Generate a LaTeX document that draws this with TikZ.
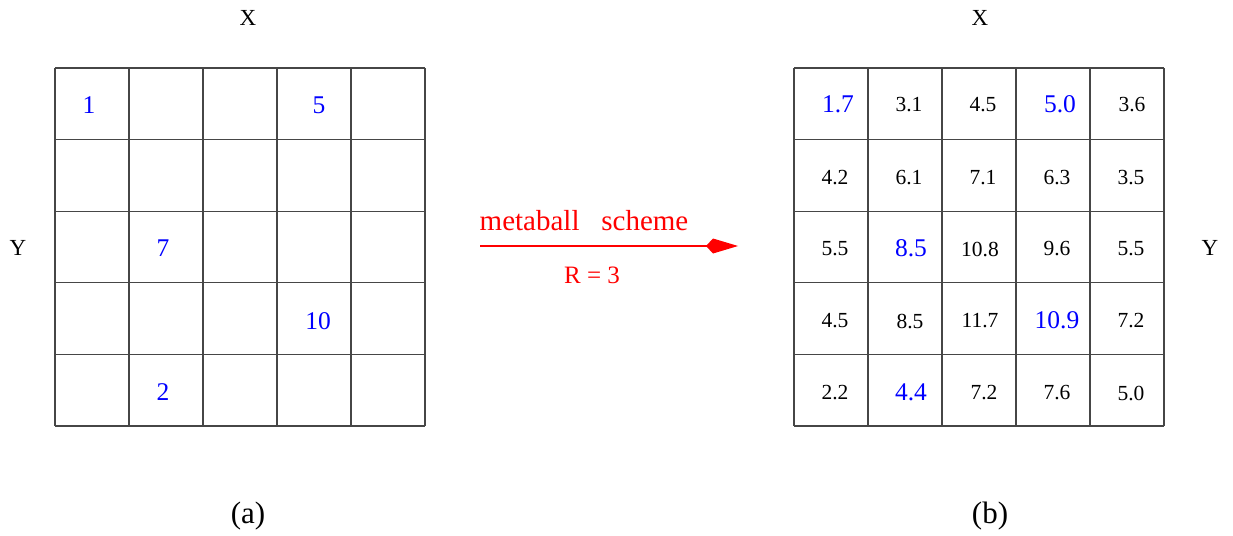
\documentclass[tikz,border=0pt]{standalone}
\usepackage{fontspec}
\setmainfont{Liberation Serif}
\usetikzlibrary{arrows.meta}

\begin{document}
\begin{tikzpicture}[x=1pt,y=-1pt]
  \definecolor{mblue}{RGB}{0,0,255}
  \definecolor{mred}{RGB}{255,0,0}
  \definecolor{mline}{RGB}{70,70,70}
  \tikzset{
    gridline/.style={mline,line width=1.1pt},
    seed/.style={font=\fontsize{25.5}{25.5}\selectfont,text=mblue,inner sep=0pt},
    val/.style={font=\fontsize{21.5}{21.5}\selectfont,inner sep=0pt},
    axis/.style={font=\fontsize{23}{23}\selectfont,inner sep=0pt},
    caption/.style={font=\fontsize{31}{31}\selectfont,inner sep=0pt}
  }
  \useasboundingbox (0,0) rectangle (1233,535);
  % left grid
  \foreach \i in {0,...,5} {
    \draw[gridline] (55+74*\i,68) -- (55+74*\i,426);
    \draw[gridline] (55,68+71.6*\i) -- (425,68+71.6*\i);
  }
  % right grid
  \foreach \i in {0,...,5} {
    \draw[gridline] (794+74*\i,68) -- (794+74*\i,426);
    \draw[gridline] (794,68+71.6*\i) -- (1164,68+71.6*\i);
  }
  \node[axis] (xa) at (248,18) {X};
  \node[axis] (ya) at (18,248) {Y};
  \node[axis] (xb) at (980,18) {X};
  \node[axis] (yb) at (1210,248) {Y};
  \node[caption] (capa) at (248,516) {(a)};
  \node[caption] (capb) at (990,516) {(b)};
  % seeds
  \node[seed] (s1) at (89,105) {1};
  \node[seed] (s5) at (319,105) {5};
  \node[seed] (s7) at (163,248) {7};
  \node[seed] (s10) at (318,321) {10};
  \node[seed] (s2) at (163,392) {2};
  % field values
  \node[seed] (v11) at (838,104) {1.7};
  \node[val] (v12) at (909,105) {3.1};
  \node[val] (v13) at (983,105) {4.5};
  \node[seed] (v14) at (1060,104) {5.0};
  \node[val] (v15) at (1132,105) {3.6};
  \node[val] (v21) at (835,178) {4.2};
  \node[val] (v22) at (909,178) {6.1};
  \node[val] (v23) at (983,178) {7.1};
  \node[val] (v24) at (1057,178) {6.3};
  \node[val] (v25) at (1131,178) {3.5};
  \node[val] (v31) at (835,249) {5.5};
  \node[seed] (v32) at (911,248) {8.5};
  \node[val] (v33) at (980,249) {10.8};
  \node[val] (v34) at (1057,249) {9.6};
  \node[val] (v35) at (1131,249) {5.5};
  \node[val] (v41) at (835,321) {4.5};
  \node[val] (v42) at (910,321) {8.5};
  \node[val] (v43) at (980,321) {11.7};
  \node[seed] (v44) at (1057,320) {10.9};
  \node[val] (v45) at (1131,321) {7.2};
  \node[val] (v51) at (835,393) {2.2};
  \node[seed] (v52) at (911,392) {4.4};
  \node[val] (v53) at (984,393) {7.2};
  \node[val] (v54) at (1057,393) {7.6};
  \node[val] (v55) at (1131,393) {5.0};
  % arrow
  \coordinate (from) at (480,246);
  \coordinate (to) at (738,246);
  \draw[mred,line width=1.3pt,-{Kite[length=32pt,width=15pt,inset=7pt]}] (from) -- (to);
  \node[font=\fontsize{29}{29}\selectfont,text=mred,inner sep=0pt] (lbl) at (584,221) {metaball\ \ \ scheme};
  \node[font=\fontsize{25}{25}\selectfont,text=mred,inner sep=0pt] (rad) at (592,275) {R = 3};
\end{tikzpicture}
\end{document}
